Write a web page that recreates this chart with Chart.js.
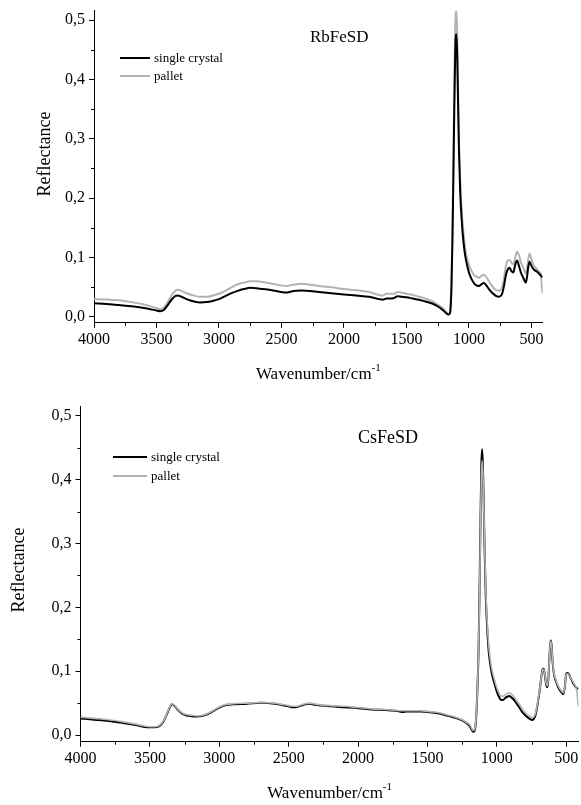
<!DOCTYPE html>
<html lang="en">
<head>
  <meta charset="UTF-8" />
  <title>Reflectance spectra</title>
  <script src="https://cdn.jsdelivr.net/npm/chart.js@4.4.1/dist/chart.umd.min.js"></script>
  <style>
    body { margin: 0; background: #fff; }
    canvas { display: block; }
  </style>
</head>
<body>
  <canvas id="rbChart" width="581" height="400"></canvas>
  <canvas id="csChart" width="581" height="405"></canvas>

  <script>
    // Axis ticks
    const xTickValues = [4000, 3500, 3000, 2500, 2000, 1500, 1000, 500];
    const xMinorTicks = [3750, 3250, 2750, 2250, 1750, 1250, 750];
    const yTickValues = [0, 0.1, 0.2, 0.3, 0.4, 0.5];
    const yMinorTicks = [0.05, 0.15, 0.25, 0.35, 0.45];
    const seriesNames = ['single crystal', 'pallet'];

    // RbFeSD spectra
    const rbWave = [4000, 3900, 3800, 3700, 3600, 3550, 3500, 3470, 3440, 3410, 3380, 3350, 3330, 3300, 3260, 3200,
      3150, 3100, 3050, 3000, 2950, 2900, 2850, 2800, 2750, 2700, 2650, 2600, 2550, 2500, 2460, 2420, 2380, 2340,
      2300, 2200, 2100, 2000, 1900, 1800, 1720, 1690, 1660, 1630, 1600, 1570, 1540, 1500, 1450, 1400, 1350, 1300,
      1260, 1230, 1200, 1180, 1165, 1155, 1148, 1140, 1132, 1125, 1118, 1112, 1106, 1100, 1094, 1088, 1080, 1070,
      1060, 1050, 1035, 1020, 1000, 980, 960, 940, 920, 900, 880, 860, 840, 820, 800, 780, 765, 750, 735, 720, 705,
      690, 675, 660, 645, 630, 615, 600, 585, 570, 555, 545, 535, 525, 515, 500, 485, 470, 455, 440, 425, 418, 412];
    const rbCrystal = [0.023, 0.022, 0.020, 0.018, 0.015, 0.013, 0.011, 0.0095, 0.012, 0.020, 0.029, 0.035, 0.036, 0.034, 0.030, 0.026,
      0.0245, 0.025, 0.027, 0.030, 0.035, 0.040, 0.044, 0.047, 0.049, 0.0485, 0.047, 0.046, 0.044, 0.042, 0.041, 0.043, 0.044, 0.0445,
      0.044, 0.042, 0.040, 0.038, 0.036, 0.034, 0.030, 0.029, 0.031, 0.031, 0.032, 0.035, 0.034, 0.033, 0.031, 0.029, 0.026, 0.023,
      0.019, 0.015, 0.010, 0.006, 0.004, 0.005, 0.012, 0.05, 0.13, 0.23, 0.34, 0.42, 0.47, 0.476, 0.44, 0.37, 0.28, 0.21,
      0.17, 0.14, 0.11, 0.092, 0.075, 0.064, 0.057, 0.053, 0.052, 0.055, 0.057, 0.053, 0.047, 0.042, 0.038, 0.035, 0.034, 0.035, 0.039, 0.052, 0.070,
      0.080, 0.083, 0.077, 0.075, 0.088, 0.095, 0.086, 0.075, 0.068, 0.061, 0.058, 0.068, 0.085, 0.093, 0.086, 0.081, 0.078, 0.076, 0.073, 0.070, 0.068, 0.067];
    const rbPellet = [0.030, 0.0295, 0.028, 0.025, 0.021, 0.018, 0.015, 0.013, 0.016, 0.025, 0.036, 0.044, 0.046, 0.044, 0.040, 0.036,
      0.034, 0.034, 0.036, 0.039, 0.044, 0.050, 0.055, 0.058, 0.060, 0.060, 0.059, 0.057, 0.055, 0.053, 0.052, 0.054, 0.055, 0.056,
      0.055, 0.052, 0.050, 0.047, 0.045, 0.042, 0.037, 0.036, 0.039, 0.039, 0.039, 0.042, 0.041, 0.039, 0.037, 0.034, 0.031, 0.027,
      0.022, 0.018, 0.013, 0.008, 0.005, 0.007, 0.015, 0.06, 0.15, 0.26, 0.38, 0.47, 0.51, 0.515, 0.48, 0.40, 0.30, 0.23,
      0.185, 0.155, 0.125, 0.103, 0.088, 0.078, 0.071, 0.068, 0.066, 0.069, 0.071, 0.067, 0.060, 0.054, 0.048, 0.045, 0.044, 0.045, 0.050, 0.065, 0.085,
      0.095, 0.096, 0.091, 0.089, 0.100, 0.110, 0.104, 0.092, 0.085, 0.077, 0.073, 0.082, 0.098, 0.107, 0.097, 0.088, 0.084, 0.080, 0.076, 0.072, 0.055, 0.040];

    // CsFeSD spectra
    const csWave = [4000, 3900, 3800, 3700, 3600, 3550, 3500, 3460, 3430, 3400, 3375, 3355, 3340, 3320, 3300, 3270, 3240,
      3200, 3160, 3120, 3080, 3040, 3000, 2950, 2900, 2800, 2700, 2600, 2550, 2500, 2470, 2440, 2410, 2380, 2350, 2300,
      2200, 2100, 2000, 1900, 1800, 1700, 1680, 1650, 1600, 1550, 1500, 1450, 1400, 1350, 1300, 1250, 1220, 1200, 1185,
      1172, 1162, 1155, 1148, 1140, 1132, 1125, 1118, 1112, 1106, 1100, 1094, 1088, 1080, 1070, 1060, 1050, 1035, 1020,
      1000, 985, 970, 955, 940, 925, 910, 895, 880, 860, 840, 820, 800, 780, 760, 745, 735, 720, 705, 690, 680, 670, 662,
      655, 645, 635, 628, 620, 613, 606, 598, 588, 575, 560, 545, 530, 520, 510, 500, 490, 480, 470, 460, 450, 440, 430, 420, 414];
    const csCrystal = [0.026, 0.024, 0.022, 0.019, 0.0155, 0.013, 0.012, 0.012, 0.014, 0.022, 0.034, 0.044, 0.048, 0.045, 0.040, 0.034, 0.031,
      0.0295, 0.029, 0.030, 0.033, 0.038, 0.043, 0.047, 0.048, 0.049, 0.0505, 0.049, 0.047, 0.045, 0.0435, 0.044, 0.046, 0.048, 0.049, 0.047,
      0.045, 0.0435, 0.042, 0.040, 0.039, 0.037, 0.036, 0.037, 0.037, 0.037, 0.036, 0.035, 0.033, 0.030, 0.027, 0.023, 0.019, 0.015, 0.010,
      0.005, 0.006, 0.012, 0.030, 0.07, 0.13, 0.22, 0.33, 0.42, 0.448, 0.42, 0.36, 0.29, 0.22, 0.17, 0.135, 0.115, 0.095, 0.083,
      0.068, 0.060, 0.055, 0.055, 0.058, 0.060, 0.061, 0.059, 0.056, 0.050, 0.044, 0.037, 0.032, 0.028, 0.025, 0.0235, 0.025, 0.032, 0.050, 0.072, 0.090, 0.103, 0.104,
      0.096, 0.080, 0.075, 0.090, 0.125, 0.148, 0.142, 0.115, 0.095, 0.085, 0.076, 0.070, 0.066, 0.064, 0.075, 0.096, 0.097, 0.095, 0.090, 0.086, 0.081, 0.078, 0.075, 0.073, 0.072];
    const csPellet = [0.028, 0.026, 0.024, 0.021, 0.017, 0.0145, 0.013, 0.013, 0.015, 0.023, 0.035, 0.045, 0.049, 0.046, 0.041, 0.035, 0.032,
      0.031, 0.030, 0.031, 0.034, 0.039, 0.044, 0.048, 0.049, 0.050, 0.051, 0.050, 0.048, 0.046, 0.045, 0.045, 0.047, 0.049, 0.050, 0.048,
      0.046, 0.045, 0.043, 0.041, 0.040, 0.038, 0.038, 0.038, 0.038, 0.038, 0.037, 0.036, 0.034, 0.031, 0.028, 0.024, 0.020, 0.017, 0.012,
      0.007, 0.008, 0.014, 0.032, 0.07, 0.13, 0.21, 0.32, 0.40, 0.43, 0.41, 0.36, 0.30, 0.23, 0.18, 0.145, 0.123, 0.102, 0.089,
      0.074, 0.066, 0.061, 0.061, 0.063, 0.065, 0.066, 0.064, 0.061, 0.055, 0.049, 0.042, 0.036, 0.032, 0.029, 0.027, 0.028, 0.035, 0.052, 0.073, 0.090, 0.102, 0.103,
      0.097, 0.082, 0.077, 0.091, 0.125, 0.147, 0.141, 0.116, 0.097, 0.087, 0.078, 0.072, 0.068, 0.066, 0.076, 0.095, 0.096, 0.094, 0.091, 0.087, 0.083, 0.079, 0.076, 0.062, 0.045];

    const SERIF = '"Liberation Serif", "Times New Roman", serif';

    // draws minor ticks, axis titles, panel name and legend
    const decor = {
      id: 'decor',
      afterDraw(chart, args, o) {
        const { ctx, chartArea: a, scales: { x, y } } = chart;
        ctx.save();
        ctx.strokeStyle = '#000';
        ctx.lineWidth = 1;
        ctx.beginPath();
        xMinorTicks.forEach(v => {
          const px = Math.round(x.getPixelForValue(v)) + 0.5;
          ctx.moveTo(px, a.bottom);
          ctx.lineTo(px, a.bottom + 3);
        });
        yMinorTicks.forEach(v => {
          const py = Math.round(y.getPixelForValue(v)) + 0.5;
          ctx.moveTo(a.left, py);
          ctx.lineTo(a.left - 3, py);
        });
        ctx.stroke();

        ctx.fillStyle = '#000';
        ctx.textBaseline = 'alphabetic';

        // panel name
        ctx.font = o.nameSize + 'px ' + SERIF;
        ctx.textAlign = 'left';
        ctx.fillText(o.name, o.nameX, o.nameY);

        // x title with superscript
        ctx.font = '17px ' + SERIF;
        const main = 'Wavenumber/cm';
        const w1 = ctx.measureText(main).width;
        ctx.font = '11px ' + SERIF;
        const w2 = ctx.measureText('-1').width;
        const sx = (a.left + a.right) / 2 - (w1 + w2) / 2;
        ctx.font = '17px ' + SERIF;
        ctx.fillText(main, sx, o.xTitleY);
        ctx.font = '11px ' + SERIF;
        ctx.fillText('-1', sx + w1, o.xTitleY - 8);

        // y title
        ctx.save();
        ctx.translate(o.yTitleX, o.yTitleY);
        ctx.rotate(-Math.PI / 2);
        ctx.font = '18px ' + SERIF;
        ctx.textAlign = 'center';
        ctx.textBaseline = 'middle';
        ctx.fillText('Reflectance', 0, 0);
        ctx.restore();

        // legend
        chart.data.datasets.forEach((ds, i) => {
          const ly = o.legendY + i * o.legendGap;
          ctx.strokeStyle = ds.borderColor;
          ctx.lineWidth = 2;
          ctx.beginPath();
          ctx.moveTo(o.legendX, ly);
          ctx.lineTo(o.legendX + o.legendLen, ly);
          ctx.stroke();
          ctx.font = '13px ' + SERIF;
          ctx.textAlign = 'left';
          ctx.textBaseline = 'middle';
          ctx.fillText(ds.label, o.legendX + o.legendLen + 4, ly + 1);
        });
        ctx.restore();
      }
    };

    function makeChart(id, wave, crystal, pellet, cfg) {
      const tickFont = { family: SERIF, size: 16 };
      return new Chart(document.getElementById(id), {
        type: 'line',
        data: {
          datasets: [
            {
              label: seriesNames[0],
              data: wave.map((w, i) => ({ x: w, y: crystal[i] })),
              borderColor: '#000000',
              borderWidth: 2,
              pointRadius: 0,
              cubicInterpolationMode: 'monotone',
              order: cfg.crystalOrder
            },
            {
              label: seriesNames[1],
              data: wave.map((w, i) => ({ x: w, y: pellet[i] })),
              borderColor: '#b3b3b3',
              borderWidth: cfg.pelletWidth,
              pointRadius: 0,
              cubicInterpolationMode: 'monotone',
              order: cfg.pelletOrder
            }
          ]
        },
        options: {
          responsive: false,
          animation: false,
          devicePixelRatio: 1,
          layout: { padding: { top: cfg.padTop, right: cfg.padRight, bottom: 0, left: 0 } },
          plugins: {
            legend: { display: false },
            tooltip: { enabled: false },
            decor: cfg.decor
          },
          scales: {
            x: {
              type: 'linear',
              reverse: true,
              min: 410,
              max: 4000,
              afterBuildTicks: s => { s.ticks = xTickValues.map(v => ({ value: v })); },
              afterFit: s => { s.height = cfg.xHeight; s.paddingLeft = 0; s.paddingRight = 0; },
              ticks: { color: '#000', font: tickFont, padding: 2, maxRotation: 0, autoSkip: false, callback: v => String(v) },
              grid: { drawOnChartArea: false, tickLength: 5, tickColor: '#000', tickWidth: 1 },
              border: { color: '#000', width: 1 }
            },
            y: {
              min: cfg.yMin,
              max: cfg.yMax,
              afterBuildTicks: s => { s.ticks = yTickValues.map(v => ({ value: v })); },
              afterFit: s => { s.width = cfg.left; s.paddingTop = 0; s.paddingBottom = 0; },
              ticks: { color: '#000', font: tickFont, padding: 4, callback: v => v.toFixed(1).replace('.', ',') },
              grid: { drawOnChartArea: false, tickLength: 5, tickColor: '#000', tickWidth: 1 },
              border: { color: '#000', width: 1 }
            }
          }
        },
        plugins: [decor]
      });
    }

    makeChart('rbChart', rbWave, rbCrystal, rbPellet, {
      left: 94, padTop: 10.5, padRight: 38.3, xHeight: 77.1, yMin: -0.01, yMax: 0.516,
      crystalOrder: 0, pelletOrder: 1, pelletWidth: 2,
      decor: { name: 'RbFeSD', nameSize: 17, nameX: 310, nameY: 42, xTitleY: 379, yTitleX: 45, yTitleY: 154,
        legendX: 120, legendY: 58, legendGap: 18, legendLen: 30 }
    });

    makeChart('csChart', csWave, csCrystal, csPellet, {
      left: 80.5, padTop: 6.4, padRight: 2.3, xHeight: 63.3, yMin: -0.0105, yMax: 0.515,
      crystalOrder: 1, pelletOrder: 0, pelletWidth: 1.6,
      decor: { name: 'CsFeSD', nameSize: 18, nameX: 358, nameY: 43, xTitleY: 398, yTitleX: 19, yTitleY: 170,
        legendX: 113, legendY: 57, legendGap: 19, legendLen: 34 }
    });
  </script>
</body>
</html>
